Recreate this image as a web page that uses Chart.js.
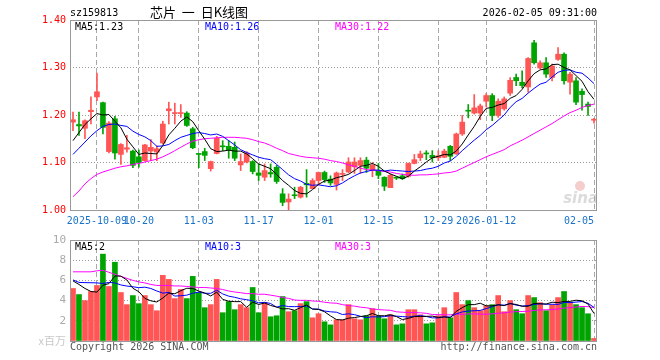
<!DOCTYPE html>
<html>
<head>
<meta charset="utf-8">
<script src="https://cdn.jsdelivr.net/npm/chart.js@4.4.1/dist/chart.umd.min.js"></script>
<style>
  body { margin: 0; background: #fff; }
  #wrap { position: relative; width: 660px; height: 360px; }
  canvas { position: absolute; left: 0; top: 0; }
</style>
</head>
<body>
<div id="wrap">
  <canvas id="kline" width="660" height="360"></canvas>
  <canvas id="volume" width="660" height="360"></canvas>
</div>
<script>
// trading days shown on the chart
const dates = [
  '2025-09-25','2025-09-26','2025-09-29','2025-09-30',
  '2025-10-09','2025-10-10','2025-10-13','2025-10-14','2025-10-15','2025-10-16','2025-10-17',
  '2025-10-20','2025-10-21','2025-10-22','2025-10-23','2025-10-24',
  '2025-10-27','2025-10-28','2025-10-29','2025-10-30','2025-10-31',
  '2025-11-03','2025-11-04','2025-11-05','2025-11-06','2025-11-07',
  '2025-11-10','2025-11-11','2025-11-12','2025-11-13','2025-11-14',
  '2025-11-17','2025-11-18','2025-11-19','2025-11-20','2025-11-21',
  '2025-11-24','2025-11-25','2025-11-26','2025-11-27','2025-11-28',
  '2025-12-01','2025-12-02','2025-12-03','2025-12-04','2025-12-05',
  '2025-12-08','2025-12-09','2025-12-10','2025-12-11','2025-12-12',
  '2025-12-15','2025-12-16','2025-12-17','2025-12-18','2025-12-19',
  '2025-12-22','2025-12-23','2025-12-24','2025-12-25','2025-12-26',
  '2025-12-29','2025-12-30','2025-12-31',
  '2026-01-05','2026-01-06','2026-01-07','2026-01-08','2026-01-09',
  '2026-01-12','2026-01-13','2026-01-14','2026-01-15','2026-01-16',
  '2026-01-19','2026-01-20','2026-01-21','2026-01-22','2026-01-23',
  '2026-01-26','2026-01-27','2026-01-28','2026-01-29','2026-01-30',
  '2026-02-02','2026-02-03','2026-02-04','2026-02-05'
];

// dates that get a label and a dashed line
const axisDates = ['2025-10-09','2025-10-20','2025-11-03','2025-11-17','2025-12-01','2025-12-15','2025-12-29','2026-01-12','2026-02-05'];
const axisText = ['2025-10-09','10-20','11-03','11-17','12-01','12-15','12-29','2026-01-12','02-05'];

const priceTicks = [1.00, 1.10, 1.20, 1.30, 1.40];
const volumeTicks = [0, 2, 4, 6, 8, 10];

const opens = [
  1.185,1.180,1.172,1.207,1.238,1.226,1.123,1.192,1.117,1.128,
  1.124,1.112,1.104,1.124,1.122,1.141,1.209,1.203,1.203,1.204,
  1.171,1.118,1.123,1.087,1.119,1.135,1.134,1.132,1.095,1.101,
  1.102,1.078,1.069,1.079,1.090,1.034,1.017,1.032,1.027,1.056,
  1.045,1.062,1.079,1.065,1.054,1.075,1.080,1.091,1.094,1.105,
  1.084,1.083,1.069,1.047,1.068,1.072,1.071,1.098,1.110,1.119,
  1.115,1.110,1.111,1.134,1.118,1.160,1.210,1.204,1.204,1.229,
  1.241,1.199,1.213,1.246,1.279,1.269,1.259,1.352,1.299,1.310,
  1.279,1.317,1.328,1.269,1.272,1.250,1.223,1.189
];
const highs = [
  1.206,1.206,1.190,1.238,1.288,1.227,1.186,1.197,1.140,1.157,
  1.126,1.126,1.138,1.148,1.135,1.187,1.227,1.225,1.222,1.207,
  1.174,1.119,1.130,1.103,1.155,1.146,1.146,1.143,1.118,1.123,
  1.104,1.097,1.097,1.097,1.094,1.045,1.034,1.048,1.050,1.085,
  1.066,1.080,1.082,1.072,1.080,1.085,1.110,1.110,1.110,1.111,
  1.100,1.098,1.070,1.076,1.070,1.076,1.099,1.117,1.124,1.125,
  1.125,1.125,1.128,1.136,1.162,1.199,1.222,1.243,1.223,1.245,
  1.245,1.234,1.238,1.279,1.286,1.293,1.321,1.357,1.314,1.321,
  1.307,1.342,1.331,1.290,1.279,1.255,1.227,1.193
];
const lows = [
  1.167,1.157,1.150,1.181,1.230,1.160,1.120,1.107,1.096,1.122,
  1.089,1.090,1.103,1.104,1.104,1.139,1.181,1.181,1.195,1.176,
  1.129,1.089,1.104,1.082,1.118,1.125,1.109,1.104,1.083,1.099,
  1.076,1.062,1.062,1.069,1.056,1.009,1.000,1.024,1.025,1.027,
  1.045,1.052,1.058,1.052,1.042,1.062,1.078,1.077,1.077,1.079,
  1.070,1.066,1.041,1.047,1.064,1.064,1.069,1.097,1.104,1.106,
  1.101,1.104,1.110,1.104,1.117,1.157,1.194,1.202,1.190,1.217,
  1.188,1.195,1.210,1.241,1.262,1.257,1.248,1.307,1.297,1.279,
  1.272,1.315,1.265,1.244,1.222,1.210,1.199,1.183
];
const closes = [
  1.190,1.177,1.188,1.210,1.249,1.174,1.183,1.120,1.138,1.131,
  1.094,1.100,1.137,1.132,1.129,1.181,1.213,1.205,1.205,1.178,
  1.131,1.117,1.115,1.102,1.151,1.133,1.127,1.109,1.102,1.120,
  1.081,1.073,1.083,1.076,1.060,1.016,1.023,1.030,1.048,1.053,
  1.062,1.079,1.064,1.057,1.078,1.077,1.101,1.101,1.104,1.088,
  1.094,1.073,1.050,1.073,1.067,1.066,1.098,1.106,1.118,1.118,
  1.110,1.114,1.124,1.113,1.160,1.185,1.208,1.215,1.219,1.241,
  1.199,1.229,1.234,1.273,1.272,1.262,1.319,1.310,1.310,1.286,
  1.303,1.328,1.272,1.286,1.227,1.243,1.218,1.190
];

const ma5 = [
  1.146,1.163,1.180,1.192,1.203,1.200,1.201,1.187,1.173,1.149,
  1.133,1.117,1.120,1.119,1.118,1.136,1.158,1.172,1.187,1.196,
  1.186,1.167,1.149,1.129,1.123,1.124,1.126,1.124,1.124,1.118,
  1.108,1.097,1.092,1.087,1.075,1.062,1.052,1.041,1.035,1.034,
  1.043,1.054,1.061,1.063,1.068,1.071,1.075,1.083,1.092,1.094,
  1.098,1.092,1.082,1.076,1.071,1.066,1.071,1.082,1.091,1.101,
  1.110,1.113,1.117,1.116,1.124,1.139,1.158,1.176,1.197,1.214,
  1.216,1.221,1.224,1.235,1.241,1.254,1.272,1.287,1.295,1.297,
  1.306,1.307,1.300,1.295,1.283,1.271,1.249,1.233
];
const ma10 = [
  1.117,1.130,1.143,1.156,1.167,1.176,1.180,1.181,1.178,1.176,
  1.166,1.159,1.154,1.146,1.134,1.135,1.138,1.146,1.153,1.157,
  1.161,1.163,1.161,1.158,1.160,1.155,1.146,1.137,1.127,1.121,
  1.116,1.111,1.108,1.106,1.096,1.085,1.074,1.066,1.061,1.054,
  1.052,1.053,1.051,1.049,1.051,1.057,1.065,1.072,1.078,1.081,
  1.084,1.084,1.082,1.084,1.083,1.082,1.081,1.082,1.083,1.086,
  1.088,1.092,1.099,1.103,1.113,1.125,1.136,1.147,1.157,1.169,
  1.178,1.189,1.200,1.216,1.228,1.235,1.246,1.256,1.265,1.269,
  1.280,1.290,1.294,1.295,1.290,1.288,1.278,1.266
];
const ma30 = [
  1.028,1.040,1.055,1.066,1.075,1.080,1.084,1.088,1.091,1.093,
  1.096,1.098,1.101,1.104,1.107,1.112,1.118,1.125,1.132,1.139,
  1.145,1.148,1.150,1.151,1.152,1.153,1.153,1.153,1.152,1.151,
  1.148,1.144,1.141,1.136,1.130,1.125,1.119,1.116,1.113,1.111,
  1.110,1.109,1.107,1.104,1.102,1.099,1.095,1.092,1.088,1.085,
  1.084,1.083,1.081,1.080,1.077,1.075,1.074,1.073,1.074,1.074,
  1.075,1.076,1.078,1.079,1.082,1.088,1.094,1.100,1.106,1.112,
  1.117,1.122,1.127,1.135,1.141,1.147,1.154,1.161,1.168,1.175,
  1.182,1.190,1.198,1.205,1.210,1.216,1.220,1.223
];

// volume in millions
const volumes = [
  5.2,4.6,4.0,4.9,5.5,8.6,5.4,7.8,4.8,3.6,
  4.5,3.7,4.5,3.6,3.0,6.5,6.1,4.2,5.1,4.2,
  6.4,4.8,3.3,3.6,6.1,2.8,3.9,3.1,3.6,3.3,
  5.3,2.8,3.8,2.4,2.5,4.4,2.9,3.0,3.7,3.9,
  2.3,2.7,1.9,1.6,2.1,2.1,3.6,2.2,2.1,2.5,
  3.2,2.5,2.2,2.6,1.6,1.7,3.1,3.1,2.6,1.7,
  1.8,2.5,3.3,2.3,4.8,3.6,4.0,3.3,3.0,3.5,
  3.6,4.5,2.9,4.0,3.1,2.7,4.5,4.3,3.8,3.0,
  3.6,4.3,4.9,3.8,3.6,3.3,2.7,0.25
];
const volMa5 = [
  5.95,5.60,5.20,4.90,4.84,5.52,5.68,6.44,6.42,6.04,
  5.22,4.88,4.22,3.98,3.86,4.26,4.74,4.68,4.98,5.22,
  5.20,4.94,4.76,4.46,4.84,4.12,3.94,3.90,3.90,3.34,
  3.84,3.62,3.76,3.52,3.36,3.18,3.20,3.04,3.30,3.58,
  3.16,3.12,2.90,2.48,2.12,2.08,2.26,2.32,2.42,2.50,
  2.72,2.50,2.50,2.60,2.42,2.12,2.24,2.42,2.42,2.44,
  2.46,2.34,2.38,2.32,2.94,3.30,3.60,3.60,3.74,3.48,
  3.48,3.58,3.50,3.70,3.62,3.44,3.44,3.72,3.68,3.66,
  3.84,3.80,3.92,3.92,4.04,3.98,3.66,2.73
];
const volMa10 = [
  6.05,5.80,5.78,5.77,5.75,5.70,5.80,5.75,5.55,5.44,
  5.37,5.28,5.33,5.20,4.95,4.74,4.81,4.45,4.48,4.54,
  4.73,4.84,4.72,4.72,5.03,4.66,4.44,4.33,4.18,4.09,
  3.98,3.78,3.83,3.71,3.35,3.51,3.41,3.40,3.41,3.47,
  3.17,3.16,2.97,2.89,2.85,2.62,2.69,2.61,2.45,2.31,
  2.40,2.38,2.41,2.51,2.46,2.42,2.37,2.46,2.51,2.43,
  2.29,2.29,2.40,2.37,2.69,2.88,2.97,2.99,3.03,3.21,
  3.39,3.59,3.55,3.72,3.55,3.46,3.51,3.61,3.69,3.64,
  3.64,3.62,3.82,3.80,3.85,3.91,3.73,3.33
];
const volMa30 = [
  6.85,6.85,6.85,6.85,6.95,7.00,6.80,6.60,6.40,6.20,
  6.00,5.85,5.75,5.60,5.50,5.50,5.50,5.45,5.45,5.40,
  5.35,5.30,5.30,5.25,5.20,5.10,4.95,4.85,4.78,4.69,
  4.69,4.63,4.63,4.54,4.44,4.30,4.22,4.06,4.02,4.03,
  3.96,3.93,3.84,3.77,3.74,3.60,3.51,3.45,3.35,3.29,
  3.18,3.11,3.07,3.04,2.89,2.85,2.82,2.82,2.79,2.74,
  2.62,2.61,2.59,2.59,2.67,2.64,2.68,2.69,2.66,2.65,
  2.69,2.75,2.79,2.87,2.90,2.92,2.95,3.02,3.08,3.09,
  3.11,3.17,3.26,3.30,3.36,3.42,3.40,3.31
];

const UP = '#ff5555';
const DOWN = '#00a400';
const MONO = 'DejaVu Sans Mono';
const GRID = '#a8a8a8';

const candleColors = closes.map((c, i) => (c >= opens[i] ? UP : DOWN));
const floor = (v, d) => Math.floor(v * Math.pow(10, d) + 1e-9) / Math.pow(10, d);

const maLine = (data, color) => ({
  type: 'line',
  data: data,
  borderColor: color,
  borderWidth: 1,
  pointRadius: 0,
  tension: 0,
  order: 0
});

// category axis used by the bars, kept hidden
const xBars = { type: 'category', offset: true, display: false };

// a linear twin of the category axis carries the date lines and labels
const xDates = (showLabels, height) => ({
  type: 'linear',
  position: 'bottom',
  offset: false,
  min: -0.5,
  max: dates.length - 0.5,
  afterBuildTicks: s => { s.ticks = axisDates.map(d => ({ value: dates.indexOf(d) })); },
  grid: { offset: false, drawTicks: false, color: GRID, lineWidth: 1 },
  border: { display: false, dash: [5, 3] },
  ticks: {
    display: showLabels,
    autoSkip: false,
    maxRotation: 0,
    minRotation: 0,
    padding: 5,
    color: '#1a73c8',
    font: { family: MONO, size: 10 },
    callback: v => {
      const k = axisDates.indexOf(dates[v]);
      if (k < 0) return '';
      // last label sits left of its line
      return k === axisDates.length - 1 ? axisText[k].padEnd(axisText[k].length * 2) : axisText[k];
    }
  },
  afterFit: s => { s.height = height; }
});

const yAxis = (ticksList, color, size, label) => ({
  min: ticksList[0],
  max: ticksList[ticksList.length - 1],
  afterBuildTicks: s => { s.ticks = ticksList.map(v => ({ value: v })); },
  grid: { drawTicks: false, color: '#9a9a9a', lineWidth: 1 },
  border: { display: false, dash: [1, 2] },
  ticks: {
    padding: 4,
    color: color,
    font: { family: MONO, size: size },
    callback: label
  },
  afterFit: s => { s.width = 70; }
});

const frame = (ctx, a) => {
  ctx.strokeStyle = '#999';
  ctx.lineWidth = 1;
  ctx.setLineDash([]);
  ctx.strokeRect(a.left + 0.5, a.top + 0.5, a.right - a.left - 1, a.bottom - a.top);
};

// frame and texts drawn around the price panel
const klineDecor = {
  id: 'klineDecor',
  afterDraw(chart) {
    const { ctx, chartArea: a } = chart;
    ctx.save();
    frame(ctx, a);

    ctx.textBaseline = 'middle';
    ctx.font = '10px ' + MONO;
    ctx.fillStyle = '#000';
    ctx.textAlign = 'left';
    ctx.fillText('sz159813', 70, 13);
    ctx.textAlign = 'right';
    ctx.fillText('2026-02-05 09:31:00', 597, 13);
    ctx.textAlign = 'center';
    ctx.font = '13px "Noto Sans CJK SC"';
    ctx.fillText('芯片  一  日K线图', 199, 12);

    ctx.textAlign = 'left';
    ctx.font = '10px ' + MONO;
    ctx.fillStyle = '#000';
    ctx.fillText('MA5:' + floor(ma5[ma5.length - 1], 2).toFixed(2), 75, 27);
    ctx.fillStyle = '#0000ff';
    ctx.fillText('MA10:' + floor(ma10[ma10.length - 1], 2).toFixed(2), 205, 27);
    ctx.fillStyle = '#ff00ff';
    ctx.fillText('MA30:' + floor(ma30[ma30.length - 1], 2).toFixed(2), 335, 27);

    // sina watermark
    ctx.globalAlpha = 0.35;
    ctx.fillStyle = '#e07070';
    ctx.beginPath();
    ctx.arc(580, 186, 5, 0, Math.PI * 2);
    ctx.fill();
    ctx.fillStyle = '#999';
    ctx.font = 'italic bold 15px "DejaVu Sans"';
    ctx.textAlign = 'right';
    ctx.fillText('sina', 598, 199);
    ctx.restore();
  }
};

const volumeDecor = {
  id: 'volumeDecor',
  afterDraw(chart) {
    const { ctx, chartArea: a } = chart;
    ctx.save();
    frame(ctx, a);

    ctx.textBaseline = 'middle';
    ctx.font = '10px ' + MONO;
    ctx.textAlign = 'left';
    ctx.fillStyle = '#000';
    ctx.fillText('MA5:' + Math.floor(volMa5[volMa5.length - 1]), 75, 247);
    ctx.fillStyle = '#0000ff';
    ctx.fillText('MA10:' + Math.floor(volMa10[volMa10.length - 1]), 205, 247);
    ctx.fillStyle = '#ff00ff';
    ctx.fillText('MA30:' + Math.floor(volMa30[volMa30.length - 1]), 335, 247);

    ctx.fillStyle = '#555';
    ctx.fillText('Copyright 2026 SINA.COM', 70, 347);
    ctx.textAlign = 'right';
    ctx.fillText('http://finance.sina.com.cn', 597, 347);

    ctx.fillStyle = '#c8c8c8';
    ctx.font = '11px "Noto Sans CJK SC"';
    ctx.fillText('x百万', 66, 341);
    ctx.restore();
  }
};

const baseOptions = top => ({
  responsive: false,
  animation: false,
  devicePixelRatio: 1,
  layout: { padding: { top: top, right: 63, left: 0, bottom: 0 } },
  plugins: { legend: { display: false }, tooltip: { enabled: false } }
});

new Chart(document.getElementById('kline'), {
  type: 'bar',
  data: {
    labels: dates,
    datasets: [
      maLine(ma5, '#000000'),
      maLine(ma10, '#0000ff'),
      maLine(ma30, '#ff00ff'),
      {
        data: opens.map((o, i) => [o, closes[i]]),
        backgroundColor: candleColors,
        barThickness: 5,
        minBarLength: 1,
        grouped: false,
        order: 1
      },
      {
        data: lows.map((l, i) => [l, highs[i]]),
        backgroundColor: candleColors,
        barThickness: 1,
        grouped: false,
        order: 2
      }
    ]
  },
  options: Object.assign(baseOptions(20), {
    scales: {
      x: xBars,
      xd: xDates(true, 150),
      y: yAxis(priceTicks, '#ff0000', 10, v => Number(v).toFixed(2))
    }
  }),
  plugins: [klineDecor]
});

new Chart(document.getElementById('volume'), {
  type: 'bar',
  data: {
    labels: dates,
    datasets: [
      maLine(volMa5, '#000000'),
      maLine(volMa10, '#0000ff'),
      maLine(volMa30, '#ff00ff'),
      {
        data: volumes,
        backgroundColor: candleColors,
        barThickness: 5,
        grouped: false,
        order: 1
      }
    ]
  },
  options: Object.assign(baseOptions(240), {
    scales: {
      x: xBars,
      xd: xDates(false, 19),
      y: yAxis(volumeTicks, '#aaaaaa', 11, v => (v === 0 ? '' : String(v)))
    }
  }),
  plugins: [volumeDecor]
});
</script>
</body>
</html>
